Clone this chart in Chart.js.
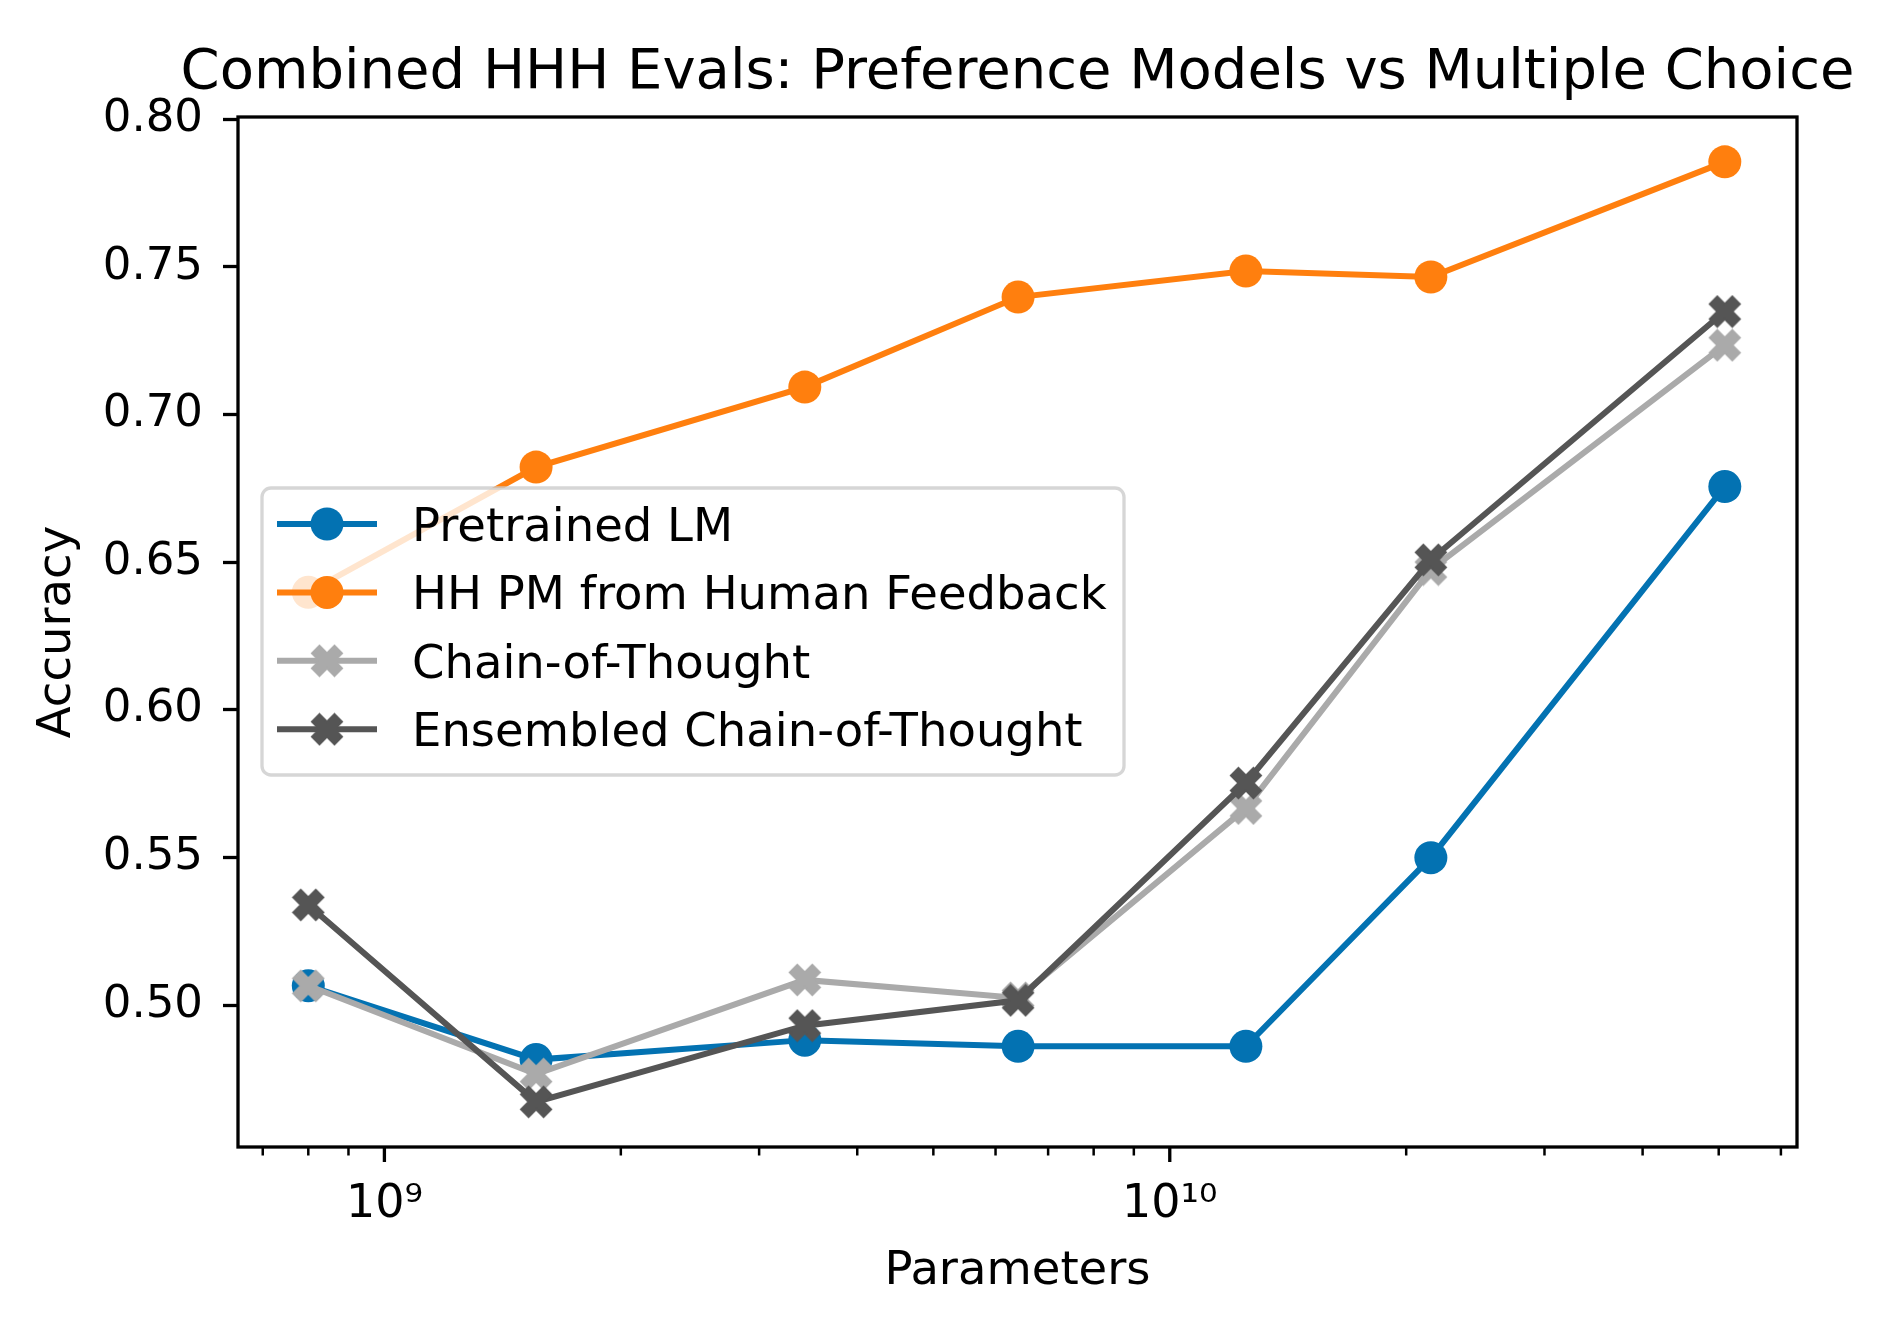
<!DOCTYPE html>
<html>
<head>
<meta charset="utf-8">
<script src="https://cdn.jsdelivr.net/npm/chart.js@4.4.1/dist/chart.umd.min.js"></script>
<style>
  html, body { margin: 0; padding: 0; background: #fff; }
  #wrap { width: 1894px; height: 1330px; }
</style>
</head>
<body>
<div id="wrap"><canvas id="chart"></canvas></div>
<script>
// ---------------------------
// Data
// ---------------------------
const params = [8.0e8, 1.56e9, 3.43e9, 6.41e9, 1.25e10, 2.15e10, 5.09e10];
const pretrainedLM = [0.5065, 0.4815, 0.4881, 0.4860, 0.4860, 0.5499, 0.6756];
const hhPM = [0.6398, 0.6822, 0.7093, 0.7398, 0.7486, 0.7466, 0.7856];
const chainOfThought = [0.5065, 0.4766, 0.5085, 0.5024, 0.5666, 0.6475, 0.7235];
const ensembledCoT = [0.5339, 0.4672, 0.4930, 0.5016, 0.5752, 0.6508, 0.7349];

const seriesLabels = ["Pretrained LM", "HH PM from Human Feedback", "Chain-of-Thought", "Ensembled Chain-of-Thought"];
const yTicks = [0.50, 0.55, 0.60, 0.65, 0.70, 0.75, 0.80];
const xMajorTicks = [1e9, 1e10];
const xMajorLabels = ["10\u2079", "10\u00B9\u2070"];
const xMinorTicks = [7e8, 8e8, 9e8, 2e9, 3e9, 4e9, 5e9, 6e9, 7e9, 8e9, 9e9, 2e10, 3e10, 4e10, 5e10, 6e10];

const FONT = "'DejaVu Sans', sans-serif";
const BLUE = "#0372b2";
const ORANGE = "#ff7f0e";
const LIGHT = "#aaaaaa";
const DARK = "#555555";

// filled "X" marker like matplotlib's 'X'
function xMarker(color, size) {
  const c = document.createElement("canvas");
  c.width = c.height = size;
  const g = c.getContext("2d");
  const pts = [[0.25,0],[0.5,0.25],[0.75,0],[1,0.25],[0.75,0.5],[1,0.75],[0.75,1],[0.5,0.75],[0.25,1],[0,0.75],[0.25,0.5],[0,0.25]];
  const pad = 2, s = size - 2 * pad;
  g.beginPath();
  pts.forEach((p, i) => {
    const x = pad + p[0] * s, y = pad + p[1] * s;
    if (i === 0) g.moveTo(x, y); else g.lineTo(x, y);
  });
  g.closePath();
  g.fillStyle = color;
  g.strokeStyle = color;
  g.lineWidth = 2;
  g.lineJoin = "miter";
  g.fill();
  g.stroke();
  return c;
}

const lightX = xMarker(LIGHT, 34);
const darkX = xMarker(DARK, 34);

const series = [
  { label: seriesLabels[0], data: pretrainedLM, color: BLUE, style: "circle", order: 4 },
  { label: seriesLabels[1], data: hhPM, color: ORANGE, style: "circle", order: 3 },
  { label: seriesLabels[2], data: chainOfThought, color: LIGHT, style: lightX, order: 2 },
  { label: seriesLabels[3], data: ensembledCoT, color: DARK, style: darkX, order: 1 }
];

// ---------------------------
// Plugins: title, frame, minor ticks, legend
// ---------------------------
const decorations = {
  id: "decorations",
  afterDraw(chart) {
    const ctx = chart.ctx;
    const ca = chart.chartArea;
    const xs = chart.scales.x;
    ctx.save();

    // title
    ctx.fillStyle = "#000";
    ctx.font = "56px " + FONT;
    ctx.textAlign = "center";
    ctx.textBaseline = "alphabetic";
    ctx.fillText("Combined HHH Evals: Preference Models vs Multiple Choice", (ca.left + ca.right) / 2, 88);

    // x tick marks (major + minor)
    ctx.strokeStyle = "#000";
    xMajorTicks.forEach(v => {
      const px = xs.getPixelForValue(v);
      ctx.lineWidth = 3.3;
      ctx.beginPath(); ctx.moveTo(px, ca.bottom); ctx.lineTo(px, ca.bottom + 15); ctx.stroke();
    });
    xMinorTicks.forEach(v => {
      const px = xs.getPixelForValue(v);
      ctx.lineWidth = 2.5;
      ctx.beginPath(); ctx.moveTo(px, ca.bottom); ctx.lineTo(px, ca.bottom + 8.5); ctx.stroke();
    });

    // axes frame
    ctx.lineWidth = 3.3;
    ctx.strokeRect(ca.left, ca.top, ca.right - ca.left, ca.bottom - ca.top);

    // legend
    const bx = ca.left + 24, by = ca.top + 371, bw = 862, bh = 287, r = 9;
    ctx.beginPath();
    ctx.moveTo(bx + r, by);
    ctx.arcTo(bx + bw, by, bx + bw, by + bh, r);
    ctx.arcTo(bx + bw, by + bh, bx, by + bh, r);
    ctx.arcTo(bx, by + bh, bx, by, r);
    ctx.arcTo(bx, by, bx + bw, by, r);
    ctx.closePath();
    ctx.fillStyle = "rgba(255,255,255,0.8)";
    ctx.fill();
    ctx.strokeStyle = "rgba(204,204,204,0.8)";
    ctx.lineWidth = 3.3;
    ctx.stroke();

    ctx.font = "46.5px " + FONT;
    ctx.textAlign = "left";
    series.forEach((s, i) => {
      const ry = by + 36 + i * 68.4;
      ctx.strokeStyle = s.color;
      ctx.lineWidth = 6;
      ctx.beginPath(); ctx.moveTo(bx + 15, ry); ctx.lineTo(bx + 115, ry); ctx.stroke();
      if (s.style === "circle") {
        ctx.fillStyle = s.color;
        ctx.beginPath(); ctx.arc(bx + 65, ry, 16.5, 0, Math.PI * 2); ctx.fill();
      } else {
        ctx.drawImage(s.style, bx + 65 - 17, ry - 17, 34, 34);
      }
      ctx.fillStyle = "#000";
      ctx.fillText(s.label, bx + 150, ry + 17);
    });

    ctx.restore();
  }
};

// ---------------------------
// Chart
// ---------------------------
new Chart(document.getElementById("chart"), {
  type: "line",
  data: {
    labels: params,
    datasets: series.map(s => ({
      label: s.label,
      data: params.map((p, i) => ({ x: p, y: s.data[i] })),
      borderColor: s.color,
      backgroundColor: s.color,
      borderWidth: 6,
      pointStyle: s.style,
      pointRadius: 16.5,
      pointBorderWidth: 0,
      pointHoverRadius: 16.5,
      tension: 0,
      order: s.order
    }))
  },
  options: {
    responsive: true,
    maintainAspectRatio: false,
    devicePixelRatio: 1,
    animation: false,
    layout: { padding: { top: 117, right: 97, left: 0, bottom: 0 } },
    plugins: { legend: { display: false }, tooltip: { enabled: false } },
    scales: {
      x: {
        type: "logarithmic",
        min: 6.51e8,
        max: 6.29e10,
        afterBuildTicks: s => { s.ticks = xMajorTicks.concat(xMinorTicks).map(v => ({ value: v })); },
        afterFit: s => { s.height = 183; },
        ticks: {
          autoSkip: false,
          maxRotation: 0,
          padding: 30,
          color: "#000",
          font: { family: FONT, size: 46 },
          callback: v => {
            const k = xMajorTicks.indexOf(v);
            return k >= 0 ? xMajorLabels[k] : "";
          }
        },
        grid: { drawOnChartArea: false, drawTicks: false },
        border: { display: false },
        title: { display: true, text: "Parameters", color: "#000", font: { family: FONT, size: 46.5 }, padding: { top: 0, bottom: 30 } }
      },
      y: {
        type: "linear",
        min: 0.4519,
        max: 0.8008,
        afterBuildTicks: s => { s.ticks = yTicks.map(v => ({ value: v })); },
        afterFit: s => { s.width = 238; },
        ticks: {
          padding: 20,
          color: "#000",
          font: { family: FONT, size: 45 },
          callback: v => Number(v).toFixed(2)
        },
        grid: { drawOnChartArea: false, drawTicks: true, tickLength: 15, tickWidth: 3.3, tickColor: "#000" },
        border: { display: false },
        title: { display: true, text: "Accuracy", color: "#000", font: { family: FONT, size: 46.5 }, padding: { top: 30, bottom: 0 } }
      }
    }
  },
  plugins: [decorations]
});
</script>
</body>
</html>
